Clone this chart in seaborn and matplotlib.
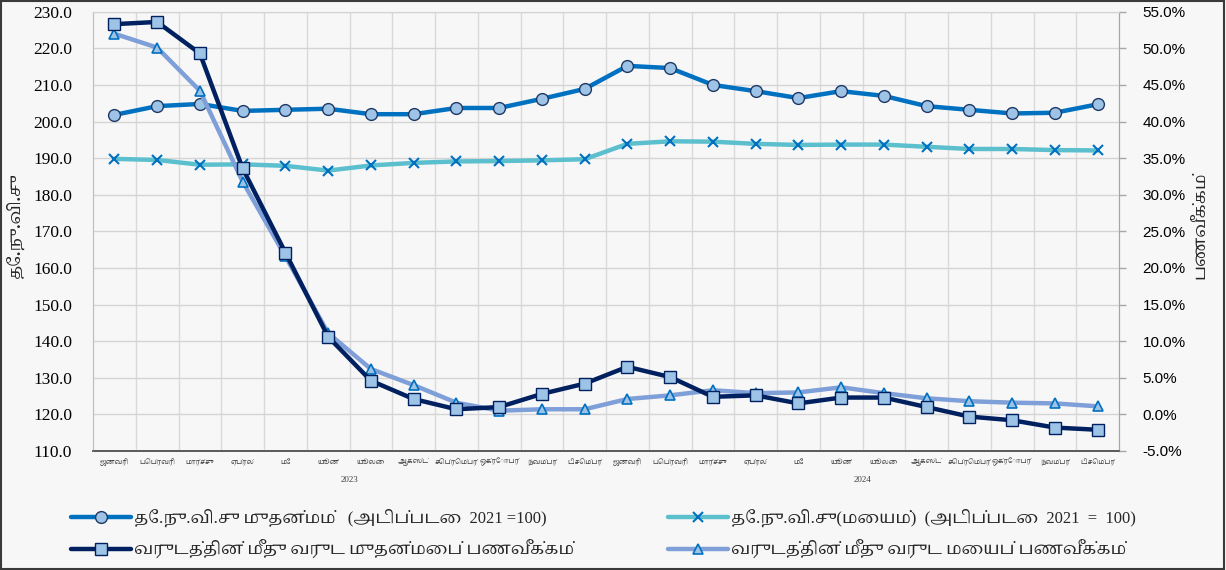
import numpy as np
import pandas as pd
import matplotlib
matplotlib.use("Agg")
import matplotlib.pyplot as plt
import seaborn as sns
from matplotlib import font_manager as fm
from matplotlib.ft2font import FT2Font
from matplotlib.patches import Rectangle
from matplotlib.ticker import FuncFormatter, FixedLocator

# ---------------- data ----------------
months = ["ஜனவரி", "பெப்ரவரி", "மார்ச்சு", "ஏப்ரல்", "மே", "யூன்", "யூலை",
          "ஆகஸ்ட்", "செப்ரெம்பர்", "ஒக்ரோபர்", "நவம்பர்", "டிசெம்பர்"]
years = ["2023", "2024"]

ncpi_headline = [201.8, 204.2, 204.8, 202.9, 203.2, 203.5, 202.0, 202.0, 203.7, 203.7, 206.2, 208.9,
                 215.2, 214.6, 210.0, 208.3, 206.4, 208.3, 207.0, 204.2, 203.2, 202.2, 202.4, 204.7]
ncpi_core = [189.8, 189.5, 188.2, 188.3, 187.9, 186.6, 188.0, 188.7, 189.1, 189.2, 189.4, 189.7,
             193.9, 194.6, 194.5, 193.9, 193.6, 193.7, 193.7, 193.1, 192.5, 192.5, 192.2, 192.1]
yoy_headline = [53.3, 53.6, 49.3, 33.6, 22.1, 10.6, 4.6, 2.1, 0.7, 1.0, 2.8, 4.2,
                6.5, 5.1, 2.4, 2.6, 1.5, 2.3, 2.3, 1.0, -0.3, -0.8, -1.8, -2.1]
yoy_core = [52.0, 50.1, 44.2, 31.8, 21.6, 11.1, 6.2, 4.0, 1.6, 0.5, 0.7, 0.7,
            2.1, 2.6, 3.3, 2.9, 3.0, 3.7, 2.9, 2.2, 1.8, 1.6, 1.5, 1.1]

series_labels = ["தே.நு.வி.சு முதன்மம்   (அடிப்படை  2021 =100)",
                 "தே.நு.வி.சு(மையம்)  (அடிப்படை  2021  =  100)",
                 "வருடத்தின் மீது வருட முதன்மைப் பணவீக்கம்",
                 "வருடத்தின் மீது வருட மையப் பணவீக்கம்"]
left_label = "தே.நு.வி.சு"
right_label = "பணவீக்கம்"

# ---------------- fonts ----------------
def find_tamil():
    best, best_score = None, -1e9
    for f in fm.fontManager.ttflist:
        try:
            if 0x0BA4 not in FT2Font(f.fname).get_charmap():
                continue
        except Exception:
            continue
        nm = f.name
        s = 0
        if "mono" in nm.lower():
            s -= 20
        if "tamil" in nm.lower():
            s += 5
        if "serif" in nm.lower():
            s += 2
        if f.weight in ("normal", 400, "regular") and f.style == "normal":
            s += 1
        if s > best_score:
            best, best_score = nm, s
    return best

sns.set_style("white")
tamil = find_tamil()
tam = [tamil] if tamil else []
serif_fam = ["Liberation Serif"] + tam + ["DejaVu Serif"]
plt.rcParams["font.family"] = serif_fam

n = len(months) * len(years)
df = pd.DataFrame({
    "x": np.arange(n),
    "headline": ncpi_headline,
    "core": ncpi_core,
    "yoy_h": yoy_headline,
    "yoy_c": yoy_core,
})

W, H = 1226, 570
fig = plt.figure(figsize=(W / 100, H / 100), dpi=100, facecolor="#f7f7f7")
ax = fig.add_axes([93 / W, 1 - 451 / H, (1119 - 93) / W, (451 - 11.7) / H])
ax.set_facecolor("#f7f7f7")
ax2 = ax.twinx()

c_head = "#0070C0"
c_core = "#5BBFCE"
c_yh = "#002060"
c_yc = "#7F9FD8"
mfill = "#9DC3E6"

sns.lineplot(data=df, x="x", y="headline", ax=ax, color=c_head, lw=3.2, marker="o",
             markersize=8.5, markerfacecolor=mfill, markeredgecolor="#1F3864", markeredgewidth=1.0,
             label=series_labels[0], legend=False, zorder=3)
sns.lineplot(data=df, x="x", y="core", ax=ax, color=c_core, lw=3.2, marker="x",
             markersize=6.5, markeredgecolor=c_head, markeredgewidth=1.5,
             label=series_labels[1], legend=False, zorder=3)
sns.lineplot(data=df, x="x", y="yoy_h", ax=ax2, color=c_yh, lw=3.2, marker="s",
             markersize=8.5, markerfacecolor=mfill, markeredgecolor=c_yh, markeredgewidth=1.0,
             label=series_labels[2], legend=False, zorder=3)
sns.lineplot(data=df, x="x", y="yoy_c", ax=ax2, color=c_yc, lw=3.2, marker="^",
             markersize=7.5, markerfacecolor=mfill, markeredgecolor=c_head, markeredgewidth=1.2,
             label=series_labels[3], legend=False, zorder=2)

# axes limits
ax.set_xlim(-0.5, n - 0.5)
ax.set_ylim(110, 230)
ax2.set_ylim(-5, 55)
ax.set_yticks(np.arange(110, 231, 10))
ax2.set_yticks(np.arange(-5, 56, 5))
ax.yaxis.set_major_formatter(FuncFormatter(lambda v, p: f"{v:.1f}"))
ax2.yaxis.set_major_formatter(FuncFormatter(lambda v, p: f"{v:.1f}%"))

# grid
ax.grid(True, axis="y", color="#d4d4d4", lw=1.0)
ax.set_axisbelow(True)
boundaries = np.arange(-0.5, n, 1.0)
for b in boundaries[1:-1]:
    ax.axvline(b, color="#d9d9d9", lw=1.0, zorder=0)

# x axis as category table
ax.xaxis.set_major_locator(FixedLocator(boundaries))
ax.xaxis.set_minor_locator(FixedLocator([-0.5, 11.5, 23.5]))
ax.tick_params(axis="x", which="major", length=14, width=1.0, color="#a6a6a6",
               labelbottom=False, direction="out")
ax.tick_params(axis="x", which="minor", length=27, width=1.0, color="#a6a6a6",
               labelbottom=False, direction="out")
ax.set_xlabel("")
ax.set_ylabel("")
ax2.set_xlabel("")
ax2.set_ylabel("")

tr = ax.get_xaxis_transform()
for yi, yr in enumerate(years):
    for mi, m in enumerate(months):
        ax.text(yi * 12 + mi, -0.025, m, transform=tr, ha="center", va="center",
                fontsize=4.8, color="#404040")
    ax.text(yi * 12 + 5.5, -0.065, yr, transform=tr, ha="center", va="center",
            fontsize=6.5, color="#404040", family=["Liberation Serif"])

# y ticks
ax.tick_params(axis="y", length=0, pad=15, labelsize=12.5, labelcolor="#000000")
for t in ax.get_yticklabels():
    t.set_fontfamily(["Liberation Serif"])
ax2.tick_params(axis="y", length=5, width=1.0, color="#a6a6a6", pad=12, labelsize=11,
                labelcolor="#000000")
for t in ax2.get_yticklabels():
    t.set_fontfamily(["Liberation Sans"])

# spines
for a in (ax, ax2):
    a.spines["top"].set_color("#d4d4d4")
    a.spines["left"].set_color("#bfbfbf")
    a.spines["right"].set_color("#a6a6a6")
    a.spines["bottom"].set_color("#595959")
    a.spines["bottom"].set_linewidth(1.2)

# axis titles
fig.text(15 / W, 1 - 225 / H, left_label, rotation=90, ha="center", va="center",
         fontsize=12, fontweight="bold")
fig.text(1200 / W, 1 - 225 / H, right_label, rotation=90, ha="center", va="center",
         fontsize=12, fontweight="bold")

# legends (two columns)
h1, l1 = ax.get_legend_handles_labels()
h2, l2 = ax2.get_legend_handles_labels()
leg_kw = dict(loc="upper left", frameon=False, fontsize=12, handlelength=3.6,
              handletextpad=0.2, labelspacing=0.75, borderaxespad=0, borderpad=0.3)
fig.legend([h1[0], h2[0]], [l1[0], l2[0]], bbox_to_anchor=(66 / W, 1 - 504 / H), **leg_kw)
fig.legend([h1[1], h2[1]], [l1[1], l2[1]], bbox_to_anchor=(663 / W, 1 - 504 / H), **leg_kw)

fig.patches.append(Rectangle((0.001, 0.002), 0.997, 0.996, transform=fig.transFigure,
                             fill=False, edgecolor="#3a3a3a", lw=1.5))

fig.savefig("out.png", dpi=100, facecolor=fig.get_facecolor())
